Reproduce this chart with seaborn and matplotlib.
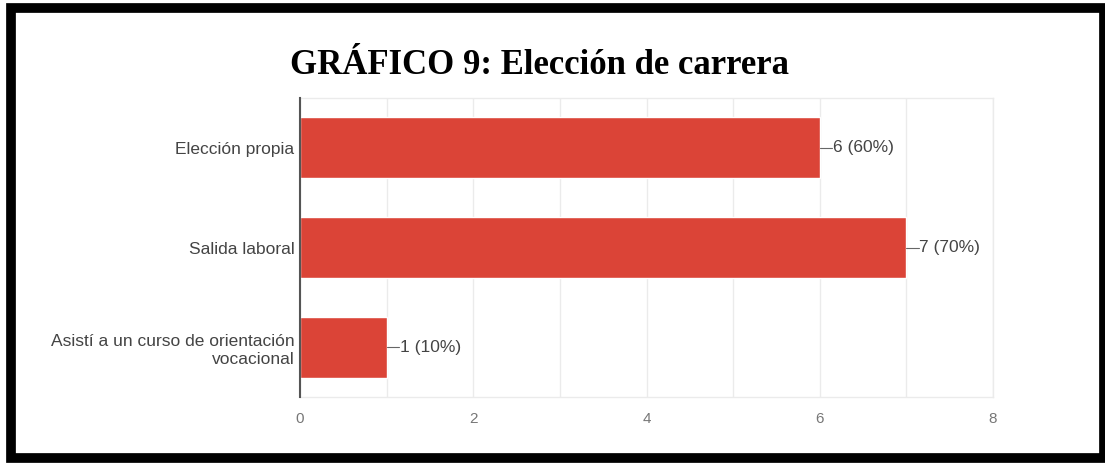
import matplotlib
matplotlib.use("Agg")
import matplotlib.pyplot as plt
import seaborn as sns
import pandas as pd
from matplotlib.patches import Rectangle

categories = ["Elección propia", "Salida laboral", "Asistí a un curso de orientación\nvocacional"]
counts = [6, 7, 1]
percents = [60, 70, 10]
xticks = [0, 2, 4, 6, 8]

df = pd.DataFrame({"cat": categories, "n": counts})

sns.set_theme(style="white")
plt.rcParams['font.family'] = ['Liberation Sans', 'DejaVu Sans']

fig = plt.figure(figsize=(11.05, 4.63), dpi=100)
ax = fig.add_axes([300/1105, 66/463, 693/1105, 299/463])

sns.barplot(data=df, x="n", y="cat", orient="h", color="#DB4437", saturation=1,
            width=0.61, ax=ax, zorder=3)

ax.set_xlim(0, 8)
ax.set_ylim(2.5, -0.5)
ax.set_xticks(xticks)
ax.set_xticks(range(0, 9), minor=True)
ax.grid(True, axis="x", which="both", color="#ebebeb", linewidth=1, zorder=0)
ax.set_xlabel("")
ax.set_ylabel("")
ax.tick_params(axis="y", length=0, labelsize=12.5, colors="#444444", pad=4)
ax.tick_params(axis="x", length=0, labelsize=11, pad=11, colors="#777777")
for lab in ax.get_yticklabels():
    lab.set_color("#444444")
    lab.set_horizontalalignment("right")
    lab.set_multialignment("right")
    lab.set_linespacing(1.25)

for s in ["top", "bottom", "right"]:
    ax.spines[s].set_color("#ebebeb")
    ax.spines[s].set_linewidth(1)
ax.spines["left"].set_color("#555555")
ax.spines["left"].set_linewidth(1.5)
ax.spines["left"].set_zorder(5)

for i, (v, p) in enumerate(zip(counts, percents)):
    ax.plot([v, v + 0.14], [i, i], color="#666666", linewidth=0.8, zorder=4)
    ax.text(v + 0.15, i, f"{v} ({p}%)", va="center", ha="left",
            fontsize=12.5, color="#444444", zorder=4)

fig.text(540/1105, 1 - 65/463, "GRÁFICO 9: Elección de carrera",
         ha="center", va="center", fontsize=25, fontweight="bold",
         family=["Liberation Serif", "DejaVu Serif"], color="black")

fig.patches.append(Rectangle((10.5/1105, 5/463), 1104/1105 - 10.5/1105, 455/463 - 5/463,
                             transform=fig.transFigure, fill=False,
                             edgecolor="black", linewidth=7))

fig.savefig("out.png", dpi=100)
